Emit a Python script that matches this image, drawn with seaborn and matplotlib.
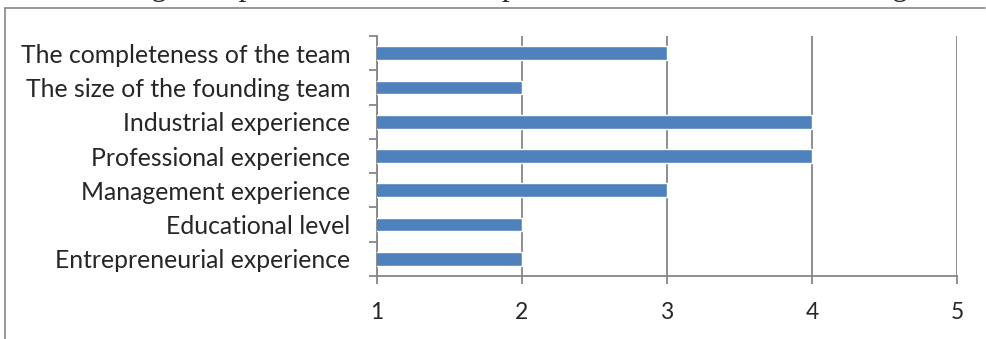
import numpy as np
import pandas as pd
import seaborn as sns
import matplotlib.pyplot as plt

# данные (сверху вниз)
factors = ['The completeness of the team', 'The size of the founding team',
           'Industrial experience', 'Professional experience',
           'Management experience', 'Educational level',
           'Entrepreneurial experience']
scores = [3, 2, 4, 4, 3, 2, 2]
x_ticks = [1, 2, 3, 4, 5]
title = "Fig. 3 Importance of human capital in the VCs' decision making"

df = pd.DataFrame({'factor': factors, 'score': scores})

sns.set_style('white')
plt.rcParams['font.family'] = ['Lato', 'DejaVu Sans']

grey = '#868686'
fig = plt.figure(figsize=(9.86, 3.39), dpi=100)
ax = fig.add_axes([377/986, 1-276/339, 580/986, 240/339])

sns.barplot(data=df, x='score', y='factor', orient='h', color='#4F81BD',
            saturation=1, width=0.4, ax=ax, zorder=3)

ax.set_xlim(1, 5)
ax.set_ylim(len(factors) - 0.5, -0.5)
ax.set_xticks(x_ticks)
ax.set_xticklabels([str(t) for t in x_ticks])
ax.grid(axis='x', color=grey, linewidth=1.3, zorder=0)
ax.set_axisbelow(True)

# засечки на границах категорий
ax.set_yticks(np.arange(len(factors)))
ax.set_yticklabels(factors)
ax.set_yticks(np.arange(len(factors) + 1) - 0.5, minor=True)
ax.tick_params(axis='y', which='major', length=0, pad=19, labelsize=17.8)
ax.tick_params(axis='y', which='minor', length=6, width=1.3, color=grey,
               direction='out', left=True)
ax.tick_params(axis='x', which='major', length=6, width=1.3, color=grey,
               direction='out', bottom=True, pad=13, labelsize=16.5)
ax.set_xlabel('')
ax.set_ylabel('')

for s in ['top', 'right']:
    ax.spines[s].set_visible(False)
for s in ['left', 'bottom']:
    ax.spines[s].set_color(grey)
    ax.spines[s].set_linewidth(1.3)

# рамка документа
fig.add_artist(plt.Line2D([5/986, 985/986], [1-8/339, 1-8/339],
                          color=grey, linewidth=1.2, transform=fig.transFigure))
fig.add_artist(plt.Line2D([5/986, 5/986], [0, 1-8/339],
                          color=grey, linewidth=1.2, transform=fig.transFigure))

# заголовок обрезан сверху, как в оригинале
fig.text(126/986, 1 + 5/339, title, ha='left', va='baseline',
         family='Liberation Serif', fontsize=22)

fig.savefig('out.png', dpi=100)
